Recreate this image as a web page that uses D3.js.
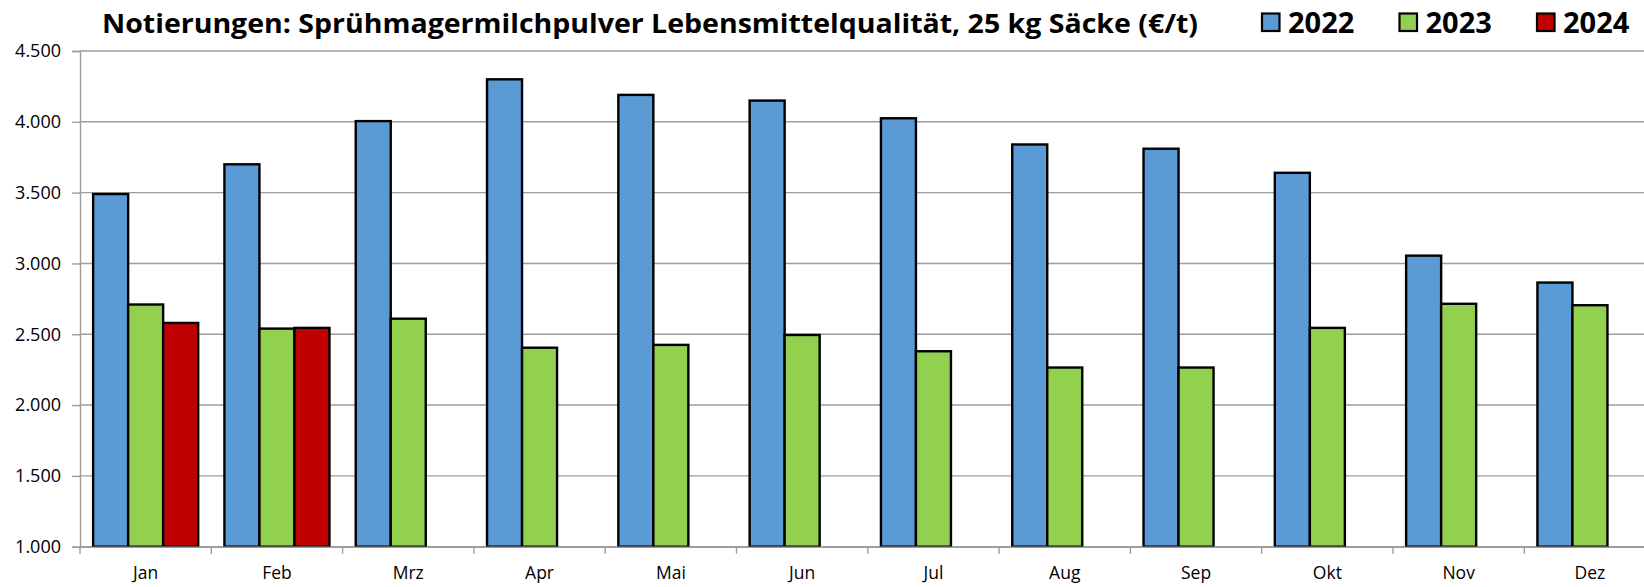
<!DOCTYPE html>
<html>
<head>
<meta charset="utf-8">
<script src="https://cdn.jsdelivr.net/npm/d3@7"></script>
<style>
  html, body { margin: 0; padding: 0; background: #fff; overflow: hidden; }
  svg { display: block; }
</style>
</head>
<body>
<script>
// ---- Data ----
const months = ["Jan","Feb","Mrz","Apr","Mai","Jun","Jul","Aug","Sep","Okt","Nov","Dez"];
const seriesNames = ["2022","2023","2024"];
const values2022 = [3490, 3700, 4005, 4300, 4190, 4150, 4025, 3840, 3810, 3640, 3055, 2865];
const values2023 = [2710, 2540, 2610, 2405, 2425, 2495, 2380, 2265, 2265, 2545, 2715, 2705];
const values2024 = [2580, 2545];
const yTicks = [1000, 1500, 2000, 2500, 3000, 3500, 4000, 4500];
const titleText = "Notierungen: Sprühmagermilchpulver Lebensmittelqualität, 25 kg Säcke (€/t)";
const colors = ["#5B9BD5", "#92D050", "#C00000"];

const seriesValues = [values2022, values2023, values2024];

// ---- Layout ----
const W = 1644, H = 587;
const plotLeft = 80, plotTop = 51, plotBottom = 546.7;
const catWidth = 131.3;
const plotRight = plotLeft + months.length * catWidth;

const svg = d3.select("body").append("svg").attr("width", W).attr("height", H);

const x = d3.scaleBand().domain(months).range([plotLeft, plotRight]).padding(0);
const xs = d3.scaleBand().domain(seriesNames).range([0, x.bandwidth()]).paddingInner(0).paddingOuter(0.375);
const y = d3.scaleLinear().domain([1000, 4500]).range([plotBottom, plotTop]);

const loc = d3.formatLocale({decimal: ",", thousands: ".", grouping: [3], currency: ["", "€"]});
const fmt = loc.format(",.0f");

// gridlines
svg.append("g").selectAll("line").data(yTicks).join("line")
  .attr("x1", plotLeft).attr("x2", W)
  .attr("y1", d => y(d)).attr("y2", d => y(d))
  .attr("stroke", "#9d9d9d").attr("stroke-width", 1.4);

// bars
const data = [];
seriesValues.forEach((vals, si) => {
  vals.forEach((v, mi) => data.push({m: months[mi], s: seriesNames[si], v, si}));
});
svg.append("g").selectAll("rect").data(data).join("rect")
  .attr("x", d => x(d.m) + xs(d.s))
  .attr("width", xs.bandwidth())
  .attr("y", d => y(d.v))
  .attr("height", d => y(1000) - y(d.v))
  .attr("fill", d => colors[d.si])
  .attr("stroke", "#000").attr("stroke-width", 2.4);

// y axis
const yAxis = d3.axisLeft(y).tickValues(yTicks).tickFormat(fmt).tickSize(8).tickPadding(11);
const gy = svg.append("g").attr("transform", `translate(${plotLeft},0)`).call(yAxis);
gy.select(".domain").attr("stroke", "#9d9d9d").attr("stroke-width", 1.4);
gy.selectAll(".tick line").attr("stroke", "#9d9d9d").attr("stroke-width", 1.4);
gy.selectAll(".tick text").attr("font-family", "'Open Sans', sans-serif").attr("font-size", 18).attr("fill", "#000");

// x axis
const xAxis = d3.axisBottom(x).tickSize(0).tickPadding(0);
const gx = svg.append("g").attr("transform", `translate(0,${plotBottom})`).call(xAxis);
gx.select(".domain").attr("stroke", "#9d9d9d").attr("stroke-width", 1.6);
gx.selectAll(".tick text").attr("font-family", "'Open Sans', sans-serif").attr("font-size", 17.5)
  .attr("fill", "#000").attr("dy", null).attr("y", 32);
// category separator ticks
svg.append("g").selectAll("line").data(months).join("line")
  .attr("x1", d => x(d)).attr("x2", d => x(d))
  .attr("y1", plotBottom).attr("y2", plotBottom + 7)
  .attr("stroke", "#9d9d9d").attr("stroke-width", 1.4);

// title
const title = svg.append("text")
  .attr("x", 102).attr("y", 32.5)
  .attr("font-family", "'Open Sans', sans-serif").attr("font-weight", "bold")
  .attr("font-size", 27).attr("fill", "#000")
  .text(titleText);
const tl = title.node().getComputedTextLength();
if (Math.abs(tl - 1096) > 4) title.attr("textLength", 1096).attr("lengthAdjust", "spacingAndGlyphs");

// legend
const legX = [1262, 1399.5, 1537];
const leg = svg.append("g").selectAll("g").data(seriesNames).join("g")
  .attr("transform", (d, i) => `translate(${legX[i]},0)`);
leg.append("rect").attr("x", 0).attr("y", 13.5).attr("width", 17.5).attr("height", 17.5)
  .attr("fill", (d, i) => colors[i]).attr("stroke", "#000").attr("stroke-width", 2.2);
leg.append("text").attr("x", 26).attr("y", 32.5)
  .attr("font-family", "'Open Sans', sans-serif").attr("font-weight", "bold")
  .attr("font-size", 29).attr("fill", "#000").text(d => d);
</script>
</body>
</html>
